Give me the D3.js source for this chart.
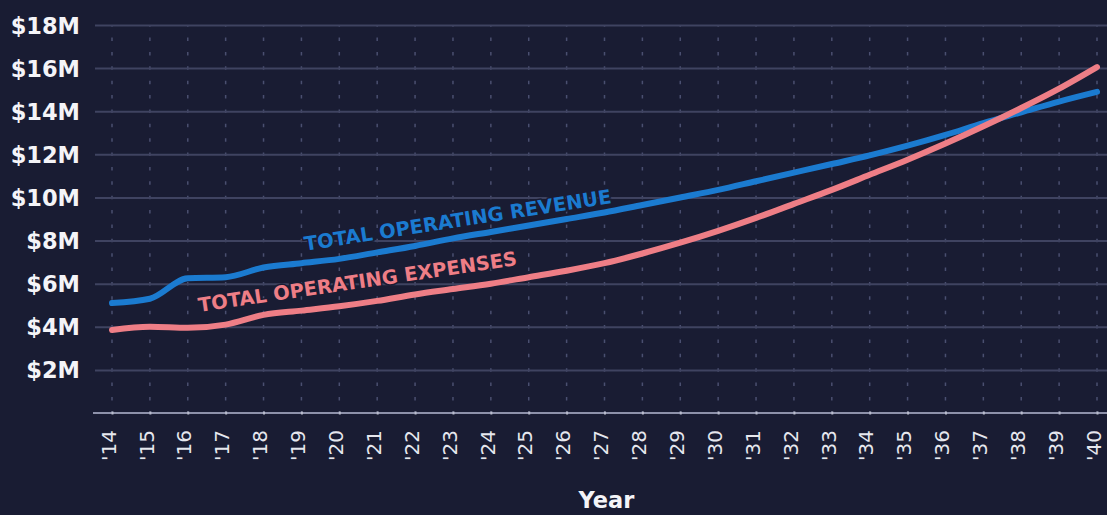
<!DOCTYPE html>
<html>
<head>
<meta charset="utf-8">
<script src="https://cdn.jsdelivr.net/npm/d3@7"></script>
<style>
  html, body { margin: 0; padding: 0; background: #191c33; }
  svg { display: block; }
</style>
</head>
<body>
<svg id="chart" width="1107" height="515"></svg>
<script>
// Fiscal years shown along the bottom axis
const years = [2014, 2015, 2016, 2017, 2018, 2019, 2020, 2021, 2022, 2023, 2024, 2025, 2026,
               2027, 2028, 2029, 2030, 2031, 2032, 2033, 2034, 2035, 2036, 2037, 2038, 2039, 2040];
const yearLabels = ["'14", "'15", "'16", "'17", "'18", "'19", "'20", "'21", "'22", "'23", "'24",
                    "'25", "'26", "'27", "'28", "'29", "'30", "'31", "'32", "'33", "'34", "'35",
                    "'36", "'37", "'38", "'39", "'40"];

// Millions of dollars per year
const revenue  = [5.1, 5.3, 6.25, 6.3, 6.75, 6.95, 7.15, 7.45, 7.75, 8.1, 8.4, 8.7, 9.0,
                  9.3, 9.65, 10.0, 10.35, 10.75, 11.15, 11.55, 11.95, 12.4, 12.9, 13.45, 13.95, 14.45, 14.9];
const expenses = [3.85, 4.0, 3.95, 4.1, 4.55, 4.75, 4.95, 5.2, 5.5, 5.75, 6.0, 6.3, 6.6,
                  6.95, 7.4, 7.9, 8.45, 9.05, 9.7, 10.35, 11.05, 11.75, 12.5, 13.3, 14.15, 15.05, 16.05];

const yTicks      = [2, 4, 6, 8, 10, 12, 14, 16, 18];
const yTickLabels = ["$2M", "$4M", "$6M", "$8M", "$10M", "$12M", "$14M", "$16M", "$18M"];

const revenueName  = "TOTAL OPERATING REVENUE";
const expensesName = "TOTAL OPERATING EXPENSES";

// ---- layout ----
const W = 1107, H = 515;
const plot = { left: 112, right: 1097, top: 25, bottom: 413 };
const gridLeft = 95;
const axisLeft = 93;

const BLUE = "#1b7bd0";
const PINK = "#ee7e86";
const BG = "#191c33";

const svg = d3.select("#chart");
svg.append("rect").attr("width", W).attr("height", H).attr("fill", BG);

const x = d3.scaleLinear().domain([years[0], years[years.length - 1]]).range([plot.left, plot.right]);
const y = d3.scaleLinear().domain([0, 18]).range([plot.bottom, plot.top]);

// Dotted vertical guides at each year
svg.append("g")
  .selectAll("line")
  .data(years)
  .join("line")
  .attr("x1", d => x(d)).attr("x2", d => x(d))
  .attr("y1", y(18)).attr("y2", y(0))
  .attr("stroke", "#4a4f70")
  .attr("stroke-width", 1.5)
  .attr("stroke-dasharray", `3.5,${(y(0) - y(2)) / 3 - 3.5}`)
  .attr("stroke-dashoffset", 1.75);

// Horizontal grid + dollar labels
const yAxis = d3.axisLeft(y)
  .tickValues(yTicks)
  .tickFormat((d, i) => yTickLabels[i])
  .tickSize(-(W - gridLeft))
  .tickPadding(15);

const gy = svg.append("g")
  .attr("transform", `translate(${gridLeft},0)`)
  .call(yAxis);
gy.select(".domain").remove();
gy.selectAll(".tick line")
  .attr("stroke", "#3f4361")
  .attr("stroke-width", 2);
gy.selectAll(".tick text")
  .attr("fill", "#f4f4f8")
  .attr("font-family", "'DejaVu Sans', sans-serif")
  .attr("font-weight", "bold")
  .attr("font-size", 22.5)
  .attr("dy", "0.36em");

// Baseline axis with rotated year labels
svg.append("line")
  .attr("x1", axisLeft).attr("x2", W)
  .attr("y1", y(0)).attr("y2", y(0))
  .attr("stroke", "#8d91aa")
  .attr("stroke-width", 2);

const xAxis = d3.axisBottom(x)
  .tickValues(years)
  .tickFormat((d, i) => yearLabels[i])
  .tickSize(3);

const gx = svg.append("g")
  .attr("transform", `translate(0,${y(0)})`)
  .call(xAxis);
gx.select(".domain").remove();
gx.selectAll(".tick line")
  .attr("stroke", "#b9bccd")
  .attr("stroke-width", 2)
  .attr("y1", -1.5).attr("y2", 1.5);
gx.selectAll(".tick text")
  .attr("fill", "#e6e7ee")
  .attr("font-family", "'DejaVu Sans', sans-serif")
  .attr("font-size", 20)
  .attr("text-anchor", "end")
  .attr("transform", "rotate(-90)")
  .attr("x", -17)
  .attr("y", -4)
  .attr("dy", "0.36em");

// Axis title
svg.append("text")
  .attr("x", (plot.left + plot.right) / 2 + 2)
  .attr("y", 508)
  .attr("text-anchor", "middle")
  .attr("fill", "#f4f4f8")
  .attr("font-family", "'DejaVu Sans', sans-serif")
  .attr("font-weight", "bold")
  .attr("font-size", 22.5)
  .text("Year");

// Series lines
const line = d3.line()
  .x((d, i) => x(years[i]))
  .y(d => y(d))
  .curve(d3.curveMonotoneX);

svg.append("path")
  .datum(revenue)
  .attr("d", line)
  .attr("fill", "none")
  .attr("stroke", BLUE)
  .attr("stroke-width", 6)
  .attr("stroke-linecap", "round")
  .attr("stroke-linejoin", "round");

svg.append("path")
  .datum(expenses)
  .attr("d", line)
  .attr("fill", "none")
  .attr("stroke", PINK)
  .attr("stroke-width", 6)
  .attr("stroke-linecap", "round")
  .attr("stroke-linejoin", "round");

// Series names set along their lines
function valueAt(series, yr) {
  return d3.scaleLinear().domain(years).range(series)(yr);
}

function labelAlong(series, name, color, fromYear, toYear, liftStart, liftEnd) {
  const x0 = x(fromYear), y0 = y(valueAt(series, fromYear)) - liftStart;
  const x1 = x(toYear),   y1 = y(valueAt(series, toYear)) - liftEnd;
  const angle = Math.atan2(y1 - y0, x1 - x0) * 180 / Math.PI;
  const len = Math.hypot(x1 - x0, y1 - y0);
  svg.append("text")
    .attr("transform", `translate(${x0},${y0}) rotate(${angle})`)
    .attr("fill", color)
    .attr("stroke", BG)
    .attr("stroke-width", 3)
    .attr("paint-order", "stroke")
    .attr("font-family", "'DejaVu Sans', sans-serif")
    .attr("font-weight", "bold")
    .attr("font-size", 19.5)
    .attr("textLength", len)
    .attr("lengthAdjust", "spacingAndGlyphs")
    .text(name);
}

labelAlong(revenue, revenueName, BLUE, 2019.1, 2027.2, 12, 8);
labelAlong(expenses, expensesName, PINK, 2016.3, 2024.71, 15, 14);
</script>
</body>
</html>
